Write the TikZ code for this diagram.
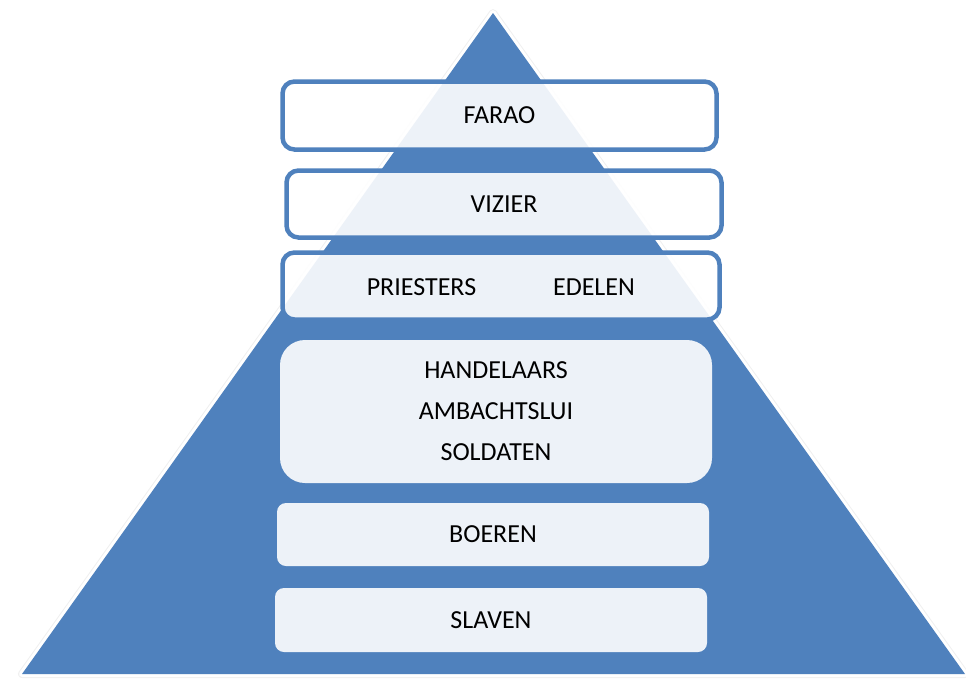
\documentclass[tikz,border=0pt]{standalone}
\usepackage{fontspec}
\setmainfont{Carlito}
\definecolor{pyrblue}{HTML}{4F81BD}
\tikzset{
  txt/.style={font=\fontsize{26}{41}\selectfont},
  lvl/.style={txt, rounded corners=12pt, draw=pyrblue, line width=4.5pt, fill=white, fill opacity=0.9, text opacity=1, inner sep=0pt},
  lowlvl/.style={txt, rounded corners=9pt, fill=white, fill opacity=0.9, text opacity=1, inner sep=0pt},
  lbl/.style={txt, inner sep=0pt}
}
\begin{document}
\begin{tikzpicture}[x=1pt,y=-1pt]
\useasboundingbox (0,0) rectangle (966,681);
% triangle outline and body
\coordinate (apex) at (493,13);
\coordinate (bl) at (22,674);
\coordinate (br) at (965,674);
\draw[gray!12, line width=8pt, line join=round] (apex) -- (bl) -- (br) -- cycle;
\draw[white, line width=6pt, line join=round] (apex) -- (bl) -- (br) -- cycle;
\fill[pyrblue] (apex) -- (bl) -- (br) -- cycle;
% levels
\node[lvl, minimum width=434pt, minimum height=68pt] (farao) at (499.5,115.5) {FARAO};
\node[lvl, minimum width=435pt, minimum height=67pt] (vizier) at (504,204) {VIZIER};
\node[lvl, minimum width=437pt, minimum height=67pt] (prist) at (501,286) {};
\node[lbl] (priesters) at (421.5,287) {PRIESTERS};
\node[lbl] (edelen) at (594,287) {EDELEN};
\node[lowlvl, rounded corners=25pt, minimum width=432pt, minimum height=143pt, align=center] (mid) at (496,411.5) {HANDELAARS\\AMBACHTSLUI\\SOLDATEN};
\node[lowlvl, minimum width=432pt, minimum height=63pt] (boeren) at (493,534.5) {BOEREN};
\node[lowlvl, minimum width=432pt, minimum height=64pt] (slaven) at (491,620) {SLAVEN};
\end{tikzpicture}
\end{document}
